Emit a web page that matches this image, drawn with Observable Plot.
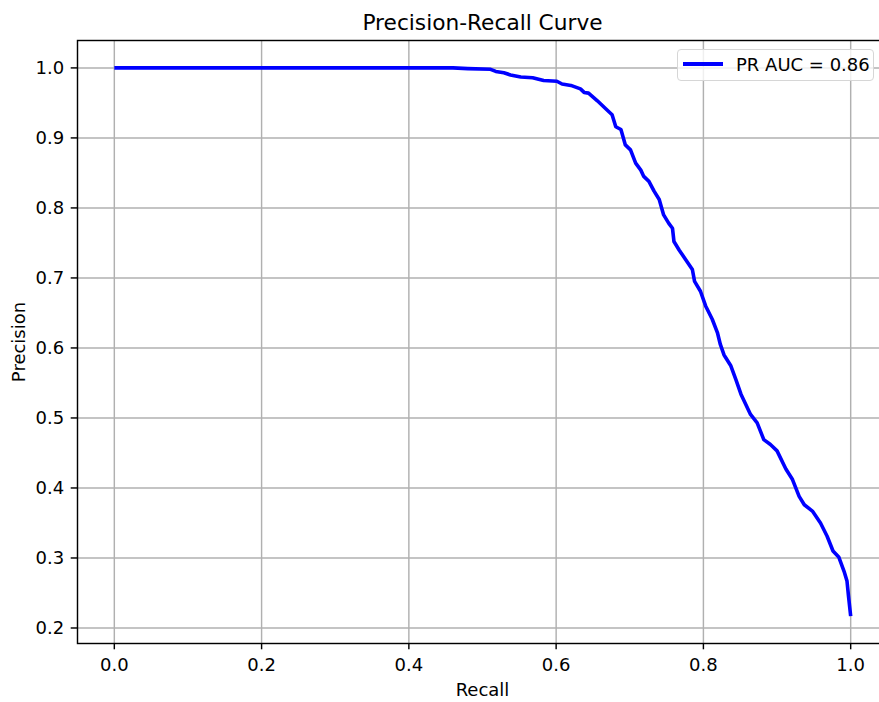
<!DOCTYPE html>
<html>
<head>
<meta charset="utf-8">
<script src="https://cdn.jsdelivr.net/npm/d3@7"></script>
<script src="https://cdn.jsdelivr.net/npm/@observablehq/plot@0.6"></script>
<style>
  html, body { margin: 0; padding: 0; background: white; }
  #wrap { position: relative; width: 879px; height: 702px; overflow: hidden; font-family: "DejaVu Sans", sans-serif; }
  #wrap svg { max-width: none !important; width: 887px !important; height: 702px !important; display: block; }
  #legend { position: absolute; left: 677px; top: 49px; width: 197px; height: 32px; box-sizing: border-box;
    border: 1.3px solid #d6d6d6; border-radius: 4px; background: rgba(255,255,255,0.8); }
  #legend .sw { position: absolute; left: 5px; top: 12.3px; width: 40px; height: 3.6px; background: blue; }
  #legend .lb { position: absolute; left: 58px; top: 2px; font-size: 18px; line-height: 25px; color: black; white-space: nowrap; }
</style>
</head>
<body>
<div id="wrap"></div>
<script>
const title = "Precision-Recall Curve";
const xLabel = "Recall";
const yLabel = "Precision";
const legendLabel = "PR AUC = 0.86";
const xTicks = [0, 0.2, 0.4, 0.6, 0.8, 1.0];
const yTicks = [0.2, 0.3, 0.4, 0.5, 0.6, 0.7, 0.8, 0.9, 1.0];

const recall = [0, 0.46, 0.48, 0.511, 0.518, 0.529, 0.538, 0.552, 0.568, 0.583, 0.601, 0.608, 0.620, 0.633, 0.638, 0.644, 0.656, 0.667, 0.676, 0.681, 0.688, 0.694, 0.701, 0.708, 0.715, 0.719, 0.726, 0.733, 0.740, 0.746, 0.753, 0.758, 0.760, 0.767, 0.776, 0.785, 0.788, 0.796, 0.803, 0.812, 0.819, 0.823, 0.828, 0.837, 0.844, 0.851, 0.864, 0.873, 0.882, 0.891, 0.900, 0.912, 0.921, 0.930, 0.937, 0.948, 0.959, 0.968, 0.976, 0.984, 0.991, 0.995, 0.997, 1.0];
const precision = [1.0, 1.0, 0.999, 0.998, 0.995, 0.993, 0.990, 0.987, 0.986, 0.982, 0.981, 0.977, 0.975, 0.970, 0.965, 0.964, 0.953, 0.942, 0.933, 0.916, 0.912, 0.890, 0.883, 0.864, 0.854, 0.845, 0.838, 0.824, 0.812, 0.790, 0.778, 0.771, 0.752, 0.740, 0.726, 0.712, 0.695, 0.681, 0.660, 0.641, 0.622, 0.605, 0.590, 0.575, 0.555, 0.534, 0.505, 0.493, 0.469, 0.462, 0.453, 0.427, 0.412, 0.388, 0.376, 0.367, 0.350, 0.331, 0.310, 0.301, 0.281, 0.267, 0.246, 0.217];

const data = recall.map((r, i) => ({r, p: precision[i]}));
const pmin = d3.min(precision), pmax = d3.max(precision);
const ypad = (pmax - pmin) * 0.05;

const chart = Plot.plot({
  width: 887, height: 702,
  marginLeft: 77, marginRight: 0, marginTop: 40, marginBottom: 59,
  style: {fontFamily: "DejaVu Sans, sans-serif", fontSize: "18px", color: "black", background: "white", maxWidth: "none"},
  x: {domain: [-0.05, 1.05]},
  y: {domain: [pmin - ypad, pmax + ypad]},
  marks: [
    Plot.gridX(xTicks, {stroke: "#b0b0b0", strokeOpacity: 1, strokeWidth: 1.44}),
    Plot.gridY(yTicks, {stroke: "#b0b0b0", strokeOpacity: 1, strokeWidth: 1.44}),
    Plot.line(data, {x: "r", y: "p", stroke: "blue", strokeWidth: 3.6, strokeLinejoin: "round", strokeLinecap: "butt"}),
    Plot.frame({stroke: "black", strokeWidth: 1.44}),
    Plot.axisX(xTicks, {tickFormat: d3.format(".1f"), tickSize: 6.3, tickPadding: 8, strokeWidth: 1.44,
      label: xLabel, labelAnchor: "center", labelArrow: "none", labelOffset: 52, fontSize: 18}),
    Plot.axisY(yTicks, {tickFormat: d3.format(".1f"), tickSize: 6.3, tickPadding: 7, strokeWidth: 1.44,
      label: yLabel, labelAnchor: "center", labelArrow: "none", labelOffset: 65, fontSize: 18}),
    Plot.text([title], {frameAnchor: "top", lineAnchor: "middle", dy: -17, fontSize: 21.7, fill: "black"})
  ]
});
const wrap = document.getElementById("wrap");
wrap.appendChild(chart);
const lg = document.createElement("div");
lg.id = "legend";
lg.innerHTML = `<div class="sw"></div><div class="lb">${legendLabel}</div>`;
wrap.appendChild(lg);
</script>
</body>
</html>
